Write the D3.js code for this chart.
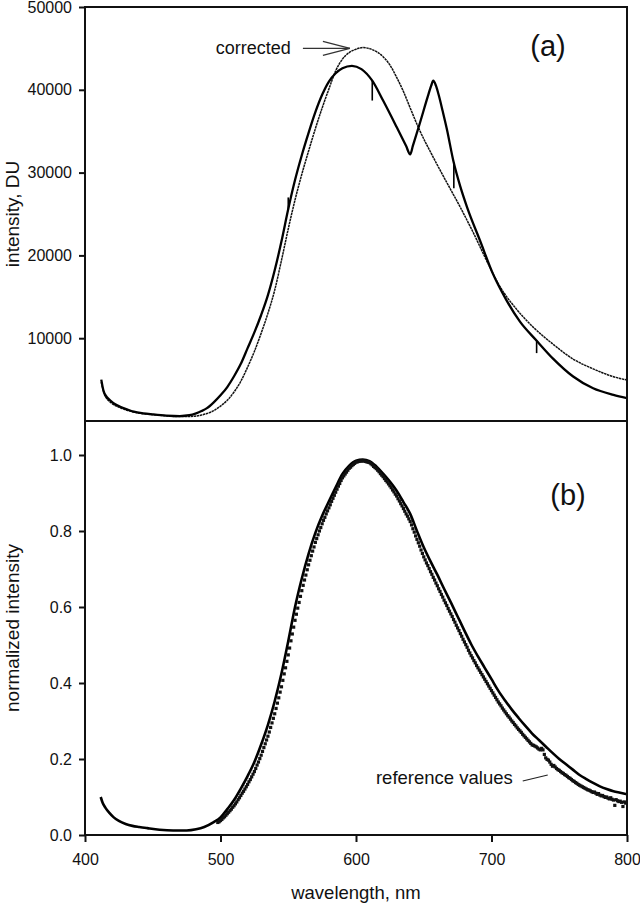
<!DOCTYPE html>
<html>
<head>
<meta charset="utf-8">
<script src="https://cdn.jsdelivr.net/npm/d3@7"></script>
<style>
  body { margin: 0; background: #fff; }
  svg { display: block; }
  text { font-family: "Liberation Sans", Arial, Helvetica, sans-serif; fill: #111; }
</style>
</head>
<body>
<svg id="chart"></svg>
<script>
// ---- panel (a): raw spectrum, intensity in DU ----
var rawWl = [412, 413.5, 416, 418.5, 422, 426, 431, 436, 443, 450, 460, 470, 477, 482, 486, 490, 495,
  500, 505, 510, 515, 520, 525, 530, 535, 540, 545, 550, 555, 560, 565, 570, 575, 580,
  585, 590, 597, 604, 612, 620, 630, 637, 640, 642, 647, 653, 655.5, 657, 659, 661, 664,
  667, 672, 677, 682, 691.5, 701, 711, 721, 733, 745.6, 760, 775, 790, 800];
var rawI = [5000, 3750, 2900, 2500, 2050, 1720, 1400, 1120, 920, 800, 660, 600, 700, 930, 1200, 1550, 2250,
  3100, 4100, 5400, 6900, 8800, 10700, 12800, 15200, 18200, 21700, 25600, 29100, 32100, 34800, 37300, 39400, 41000,
  42000, 42600, 42900, 42500, 41100, 38700, 35500, 33200, 32200, 33250, 35900, 39200, 40500, 41100, 40500, 39400, 37400,
  35300, 31300, 28300, 25800, 21800, 17800, 14600, 12000, 9750, 7500, 5400, 3950, 3150, 2750];

// single-pixel spikes in the raw spectrum: wavelength, level at curve, level at spike tip
var spikeWl = [550, 612, 672.2, 733.3];
var spikeBase = [25500, 41100, 31200, 9750];
var spikeTip = [27000, 38700, 28100, 8200];

// corrected spectrum (thin line)
var corrWl = [412, 413.5, 416, 418.5, 422, 426, 431, 436, 443, 450, 460, 470, 477, 482, 486, 490, 495,
  500, 505, 510, 515, 520, 525, 530, 535, 540, 545, 550, 555, 560, 565, 570, 575, 580, 585, 590, 595,
  600, 605, 612, 620, 625, 630, 635, 640, 647, 657, 667, 677, 687, 696, 706, 719, 731, 746, 760, 775, 790, 800];
var corrI = [4700, 3600, 2700, 2300, 1900, 1600, 1300, 1080, 880, 760, 620, 540, 540, 600, 720, 900, 1250,
  1800, 2500, 3500, 4800, 6500, 8400, 10600, 13000, 15800, 19400, 23200, 26700, 29800, 32600, 35300, 37800, 40100, 42300, 43700, 44500,
  44900, 45100, 44850, 44000, 43000, 41500, 39800, 37800, 35100, 31850, 28800, 25800, 22600, 19500, 16300, 13400, 11300, 9200, 7500, 6300, 5350, 4950];

// ---- panel (b): normalized spectrum ----
var normWl = [411.6, 413, 415, 418, 421, 425, 430, 435, 440, 446, 455, 465, 475, 482, 488, 495,
  500, 505, 510, 515, 520, 525, 530, 535, 540, 545, 550, 555, 560, 565, 570, 575, 580, 585, 590, 595,
  600, 605, 610, 615, 620, 625, 630, 635, 640, 645, 650, 655, 660, 665, 670, 675, 680, 685, 690, 695,
  700, 705, 710, 715, 720, 725, 730, 735, 740, 745, 750, 755, 760, 765, 770, 775, 780, 785, 790, 795, 800];
var normI = [0.100, 0.085, 0.072, 0.058, 0.047, 0.037, 0.029, 0.024, 0.021, 0.018, 0.014, 0.012, 0.012, 0.015, 0.021, 0.034,
  0.046, 0.068, 0.092, 0.122, 0.155, 0.192, 0.238, 0.290, 0.352, 0.425, 0.510, 0.600, 0.675, 0.740, 0.795, 0.840, 0.878, 0.915, 0.950, 0.972,
  0.985, 0.988, 0.984, 0.970, 0.951, 0.930, 0.906, 0.876, 0.845, 0.800, 0.757, 0.720, 0.685, 0.648, 0.612, 0.575, 0.538, 0.502, 0.470, 0.440,
  0.410, 0.380, 0.354, 0.330, 0.308, 0.287, 0.267, 0.250, 0.233, 0.216, 0.200, 0.186, 0.172, 0.158, 0.147, 0.137, 0.128, 0.121, 0.115, 0.111, 0.107];

// reference values, one per nm starting at 498 nm
var refStart = 498;
var refI = [
  0.033, 0.035, 0.038, 0.041, 0.045, 0.048, 0.052, 0.056, 0.060, 0.064, 0.068, 0.073, 0.077, 0.082, 0.087, 0.093, 0.098, 0.104,
  0.110, 0.115, 0.121, 0.127, 0.133, 0.140, 0.146, 0.153, 0.160, 0.167, 0.175, 0.184, 0.192, 0.201, 0.210, 0.220, 0.230, 0.240,
  0.250, 0.260, 0.271, 0.283, 0.295, 0.307, 0.319, 0.333, 0.347, 0.361, 0.376, 0.390, 0.407, 0.424, 0.440, 0.457, 0.474, 0.492,
  0.511, 0.529, 0.547, 0.565, 0.581, 0.597, 0.612, 0.628, 0.643, 0.657, 0.671, 0.684, 0.698, 0.711, 0.723, 0.735, 0.747, 0.758,
  0.770, 0.780, 0.790, 0.800, 0.809, 0.819, 0.828, 0.836, 0.845, 0.853, 0.861, 0.869, 0.878, 0.886, 0.894, 0.902, 0.910, 0.918,
  0.925, 0.933, 0.940, 0.945, 0.950, 0.955, 0.960, 0.965, 0.968, 0.972, 0.975, 0.978, 0.981, 0.982, 0.983, 0.984, 0.984, 0.985,
  0.984, 0.983, 0.982, 0.981, 0.980, 0.977, 0.974, 0.970, 0.967, 0.964, 0.960, 0.956, 0.951, 0.947, 0.943, 0.938, 0.933, 0.929,
  0.924, 0.919, 0.914, 0.908, 0.903, 0.897, 0.892, 0.885, 0.879, 0.872, 0.866, 0.859, 0.852, 0.845, 0.839, 0.832, 0.825, 0.816,
  0.806, 0.797, 0.787, 0.778, 0.769, 0.760, 0.750, 0.741, 0.732, 0.724, 0.716, 0.709, 0.701, 0.693, 0.686, 0.678, 0.671, 0.663,
  0.656, 0.648, 0.641, 0.633, 0.626, 0.618, 0.611, 0.604, 0.596, 0.589, 0.582, 0.575, 0.567, 0.560, 0.552, 0.545, 0.538, 0.530,
  0.523, 0.515, 0.508, 0.501, 0.494, 0.486, 0.479, 0.472, 0.466, 0.459, 0.453, 0.446, 0.440, 0.434, 0.428, 0.422, 0.416, 0.410,
  0.404, 0.398, 0.392, 0.386, 0.380, 0.374, 0.368, 0.362, 0.356, 0.350, 0.345, 0.340, 0.334, 0.329, 0.324, 0.319, 0.314, 0.310,
  0.305, 0.300, 0.296, 0.291, 0.287, 0.282, 0.278, 0.274, 0.270, 0.265, 0.261, 0.257, 0.253, 0.249, 0.245, 0.241, 0.237, 0.236,
  0.234, 0.232, 0.229, 0.226, 0.224, 0.228, 0.224, 0.212, 0.203, 0.199, 0.197, 0.192, 0.186, 0.181, 0.183, 0.179, 0.175, 0.172,
  0.170, 0.167, 0.164, 0.162, 0.159, 0.157, 0.154, 0.151, 0.149, 0.146, 0.143, 0.141, 0.138, 0.136, 0.133, 0.131, 0.129, 0.127,
  0.125, 0.123, 0.121, 0.119, 0.118, 0.116, 0.114, 0.112, 0.113, 0.110, 0.107, 0.109, 0.105, 0.103, 0.104, 0.101, 0.099, 0.100,
  0.097, 0.095, 0.098, 0.094, 0.092, 0.078, 0.093, 0.090, 0.088, 0.089, 0.086, 0.075, 0.087, 0.084, 0.085];

var xTicks = [400, 500, 600, 700, 800];
var topTicks = [10000, 20000, 30000, 40000, 50000];
var botTicks = [0, 0.2, 0.4, 0.6, 0.8, 1.0];

function drawChart() {
  var width = 640, height = 905;
  var left = 85, right = 627, plotTop = 7, mid = 421, bottom = 835;

  var svg = d3.select("#chart").attr("width", width).attr("height", height);

  var x = d3.scaleLinear().domain([400, 800]).range([left, right]);
  var yTop = d3.scaleLinear().domain([0, 50000]).range([mid, plotTop]);
  var yBot = d3.scaleLinear().domain([0, 1.0]).range([bottom, 455]);

  // clip for each panel
  var defs = svg.append("defs");
  defs.append("clipPath").attr("id", "clipTop").append("rect")
    .attr("x", left).attr("y", plotTop).attr("width", right - left).attr("height", mid - plotTop);
  defs.append("clipPath").attr("id", "clipBot").append("rect")
    .attr("x", left).attr("y", mid).attr("width", right - left).attr("height", bottom - mid);

  var lineTop = d3.line().x(d => x(d[0])).y(d => yTop(d[1])).curve(d3.curveMonotoneX);
  var lineBot = d3.line().x(d => x(d[0])).y(d => yBot(d[1])).curve(d3.curveMonotoneX);

  // panel (a) curves
  var gTop = svg.append("g").attr("clip-path", "url(#clipTop)");
  gTop.append("path")
    .datum(d3.zip(corrWl, corrI))
    .attr("d", lineTop)
    .attr("fill", "none")
    .attr("stroke", "#111")
    .attr("stroke-width", 1.5)
    .attr("stroke-dasharray", "2.5,0.6");
  gTop.append("path")
    .datum(d3.zip(rawWl, rawI))
    .attr("d", lineTop)
    .attr("fill", "none")
    .attr("stroke", "#000")
    .attr("stroke-width", 2.3)
    .attr("stroke-linejoin", "round");
  gTop.selectAll("line.spike")
    .data(d3.zip(spikeWl, spikeBase, spikeTip))
    .enter().append("line")
    .attr("class", "spike")
    .attr("x1", d => x(d[0])).attr("x2", d => x(d[0]))
    .attr("y1", d => yTop(d[1])).attr("y2", d => yTop(d[2]))
    .attr("stroke", "#000").attr("stroke-width", 1.6);

  // panel (b) curves
  var gBot = svg.append("g").attr("clip-path", "url(#clipBot)");
  gBot.append("path")
    .datum(d3.zip(normWl, normI))
    .attr("d", lineBot)
    .attr("fill", "none")
    .attr("stroke", "#000")
    .attr("stroke-width", 2.6);
  var refData = refI.map((v, i) => [refStart + i, v]);
  gBot.selectAll("rect.ref")
    .data(refData)
    .enter().append("rect")
    .attr("class", "ref")
    .attr("x", d => x(d[0]) - 1.6)
    .attr("y", d => yBot(d[1]) - 1.6)
    .attr("width", 3.2)
    .attr("height", 3.2)
    .attr("fill", "#111");

  // axes
  function styleAxis(g) {
    g.select(".domain").remove();
    g.selectAll(".tick line").attr("stroke", "#111").attr("stroke-width", 2);
    g.selectAll(".tick text").attr("font-size", 16).attr("fill", "#111");
  }

  svg.append("g")
    .attr("transform", "translate(" + left + ",0)")
    .call(d3.axisLeft(yTop).tickValues(topTicks).tickSize(6).tickPadding(7).tickFormat(d3.format("d")))
    .call(styleAxis);

  svg.append("g")
    .attr("transform", "translate(" + left + ",0)")
    .call(d3.axisLeft(yBot).tickValues(botTicks).tickSize(6).tickPadding(7).tickFormat(d3.format(".1f")))
    .call(styleAxis);

  svg.append("g")
    .attr("transform", "translate(0," + bottom + ")")
    .call(d3.axisBottom(x).tickValues(xTicks).tickSize(7).tickPadding(12).tickFormat(d3.format("d")))
    .call(styleAxis);

  // frames
  [[plotTop, mid], [mid, bottom]].forEach(function(p) {
    svg.append("rect")
      .attr("x", left).attr("y", p[0])
      .attr("width", right - left).attr("height", p[1] - p[0])
      .attr("fill", "none").attr("stroke", "#111").attr("stroke-width", 2);
  });

  // axis titles
  svg.append("text")
    .attr("transform", "translate(19," + ((plotTop + mid) / 2) + ") rotate(-90)")
    .attr("text-anchor", "middle")
    .attr("font-size", 19)
    .text("intensity, DU");
  svg.append("text")
    .attr("transform", "translate(19," + ((mid + bottom) / 2) + ") rotate(-90)")
    .attr("text-anchor", "middle")
    .attr("font-size", 19)
    .text("normalized intensity");
  svg.append("text")
    .attr("x", 356).attr("y", 899)
    .attr("text-anchor", "middle")
    .attr("font-size", 18.5)
    .text("wavelength, nm");

  // panel letters
  svg.append("text").attr("x", 548).attr("y", 56).attr("text-anchor", "middle")
    .attr("font-size", 29).text("(a)");
  svg.append("text").attr("x", 568).attr("y", 505).attr("text-anchor", "middle")
    .attr("font-size", 29).text("(b)");

  // "corrected" arrow
  var tip = [x(595.5), yTop(45000)];
  var ann = svg.append("g").attr("stroke", "#333").attr("stroke-width", 1.2).attr("fill", "none");
  ann.append("line").attr("x1", tip[0] - 47).attr("y1", tip[1]).attr("x2", tip[0]).attr("y2", tip[1]);
  ann.append("line").attr("x1", tip[0] - 27).attr("y1", tip[1] - 7).attr("x2", tip[0]).attr("y2", tip[1]);
  ann.append("line").attr("x1", tip[0] - 27).attr("y1", tip[1] + 7).attr("x2", tip[0]).attr("y2", tip[1]);
  svg.append("text").attr("x", tip[0] - 59).attr("y", tip[1] + 6).attr("text-anchor", "end")
    .attr("font-size", 18).text("corrected");

  // "reference values" pointer
  var rtip = [x(741.5), yBot(0.158)];
  svg.append("line").attr("x1", rtip[0] - 25).attr("y1", rtip[1] + 6).attr("x2", rtip[0]).attr("y2", rtip[1])
    .attr("stroke", "#222").attr("stroke-width", 1.2);
  svg.append("text").attr("x", rtip[0] - 35).attr("y", rtip[1] + 9).attr("text-anchor", "end")
    .attr("font-size", 18.5).text("reference values");
}

drawChart();
</script>
</body>
</html>
